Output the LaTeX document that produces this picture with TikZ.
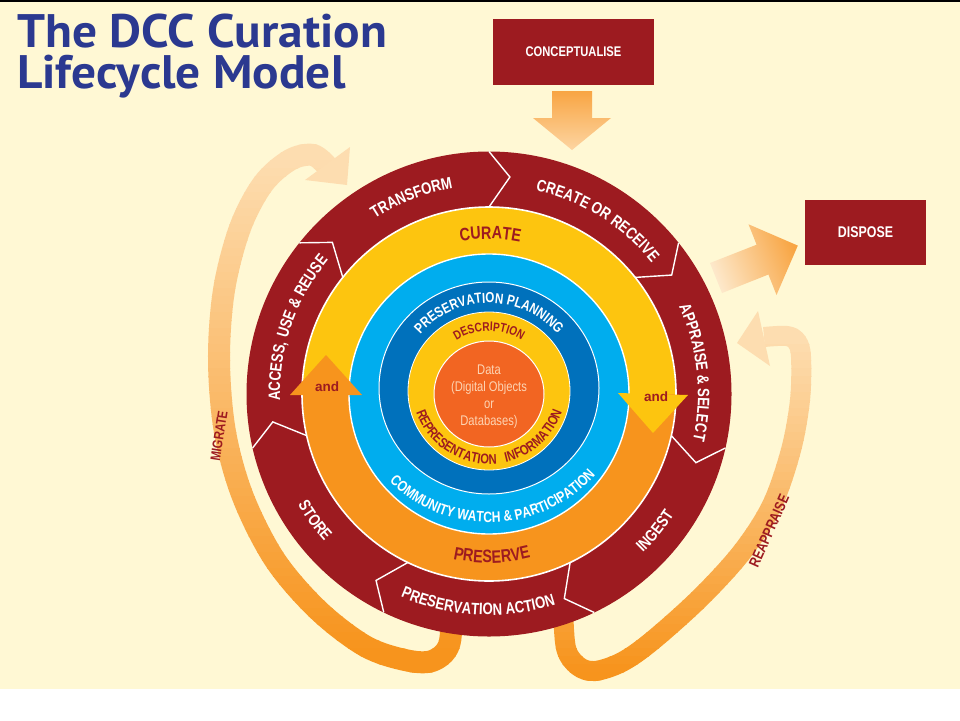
\documentclass[tikz,border=0pt]{standalone}
\usepackage{fontspec}
\setmainfont{Liberation Sans}
\newfontfamily\condfam[FakeStretch=0.8]{Liberation Sans}
\newfontfamily\ttlfam[FakeStretch=1.05]{PT Sans}
\usetikzlibrary{decorations.text}
\definecolor{bgcream}{HTML}{FFF8D4}
\definecolor{dred}{HTML}{9D1B20}
\definecolor{cyel}{HTML}{FDC50F}
\definecolor{pora}{HTML}{F7941D}
\definecolor{lblue}{HTML}{00ADEE}
\definecolor{dblue}{HTML}{0071BC}
\definecolor{dora}{HTML}{F26522}
\definecolor{datatxt}{HTML}{FDD4B3}
\definecolor{tblue}{HTML}{2B3990}
\definecolor{pale}{HTML}{FDDDB0}
\definecolor{paleB}{HTML}{FDE8CA}
\definecolor{arrora}{HTML}{F7941D}
\definecolor{arrtop}{HTML}{F8A543}
\definecolor{arrbot}{HTML}{FDD5A2}
\newcommand\lblfont{\condfam\bfseries\fontsize{16.5}{16.5}\selectfont}
\newcommand\drawmig[1]{\draw[line width=22, draw=#1] plot[smooth, tension=0.55] coordinates {(452,-606) (449,-645) (432,-661) (405,-660) (365,-646) (318,-610) (275,-560) (243,-497) (225,-432) (219,-360) (224,-290) (240,-228) (263,-184) (290,-160) (313,-155) (328,-167)};}
\newcommand\drawreap[1]{\draw[line width=20, draw=#1] plot[smooth, tension=0.55] coordinates {(563,-606) (566,-648) (578,-666) (595,-671) (622,-662) (652,-641) (700,-598) (742,-552) (772,-505) (791,-450) (800,-400) (801,-357) (797,-342) (787,-336) (764,-337)};}
\begin{document}
\begin{tikzpicture}[x=1pt,y=1pt,
  boxnode/.style={fill=dred, text=white, inner sep=0pt, font=\condfam\bfseries\fontsize{14}{14}\selectfont},
  cwtext/.style={decorate, decoration={text along path, text align=center, text color=white, text={|\lblfont|#1}}},
  dtext/.style 2 args={decorate, decoration={text along path, text align=center, text color=#1, text={#2}}},
  andlbl/.style={text=dred, inner sep=0pt, font=\bfseries\fontsize{13.5}{13.5}\selectfont},
  titlelbl/.style={anchor=base west, inner sep=0pt, text=tblue, font=\ttlfam\bfseries\fontsize{47}{47}\selectfont},
]
\useasboundingbox (0,0) rectangle (960,-720);
\fill[white] (0,0) rectangle (960,-720);
\fill[bgcream] (0,-2) rectangle (960,-689);
\fill[black] (0,0) rectangle (960,-1.6);

% title
\node[titlelbl] (title1) at (17,-47) {The DCC Curation};
\node[titlelbl] (title2) at (17,-88) {Lifecycle Model};

% migrate and reappraise bands (vertical gradient by strips)
\foreach \i in {0,...,71} {
  \pgfmathsetmacro\ytop{-128-8*\i}
  \pgfmathsetmacro\ybot{\ytop-8.8}
  \pgfmathsetmacro\ymid{132+8*\i}
  \pgfmathsetmacro\pcm{max(0,min(100,(\ymid-160)/4.9))}
  \pgfmathsetmacro\pcr{max(0,min(100,(\ymid-340)/3.3))}
  \begin{scope}
    \clip (150,\ytop) rectangle (850,\ybot);
    \drawmig{arrora!\pcm!pale}
    \drawreap{arrora!\pcr!pale}
  \end{scope}
}
\fill[pale] (350,-147) -- (347,-185) -- (305,-180) -- cycle;
\fill[pale] (758,-311) -- (737,-343) -- (770,-366) -- cycle;

% ring
\begin{scope}[shift={(489,-394)}]
  \fill[dred] (0,0) circle[radius=242.5];
  \fill[pora] (0,0) circle[radius=187];
  \fill[cyel] (187,0) arc[start angle=0, end angle=180, radius=187] -- cycle;
  \draw[white, line width=1.6] (0,0) circle[radius=187];
  \foreach \t in {90,38.571,-12.857,-64.286,-115.714,-167.143,141.429}
    \draw[white, line width=1.4] (\t:242.5) -- ({\t-5.5}:218) -- (\t:187);
  % outer labels
  \path[cwtext={TRANSFORM}] (141.5:209) arc[start angle=141.5, end angle=81.5, radius=209];
  \path[cwtext={CREATE OR RECEIVE}] (88:209) arc[start angle=88, end angle=28, radius=209];
  \path[cwtext={APPRAISE {\&} SELECT}] (41:209) arc[start angle=41, end angle=-29, radius=209];
  \path[cwtext={ACCESS, USE {\&} REUSE}] (196:209) arc[start angle=196, end angle=126, radius=209];
  \path[cwtext={INGEST}] (-69.5:221) arc[start angle=-69.5, end angle=-9.5, radius=221];
  \path[cwtext={PRESERVATION ACTION}] (-123:221) arc[start angle=-123, end angle=-63, radius=221];
  \path[cwtext={STORE}] (-174:221) arc[start angle=-174, end angle=-114, radius=221];
  % curate / preserve
  \path[dtext={dred}{|\condfam\bfseries\fontsize{18}{18}\selectfont|CURATE}] (129.5:155) arc[start angle=129.5, end angle=49.5, radius=155];
  \path[dtext={dred}{|\condfam\bfseries\fontsize{18}{18}\selectfont|PRESERVE}] (-129:169) arc[start angle=-129, end angle=-49, radius=169];
  % light blue
  \fill[lblue] (0,0) circle[radius=140];
  \draw[white, line width=1.4] (0,0) circle[radius=140];
  % and arrowheads
  \fill[cyel] (129,1) -- (199,-1) -- (164,-39) -- cycle;
  \fill[pora] (-199,-1) -- (-127,-1) -- (-163,39) -- cycle;
  \node[andlbl] (andR) at (167,-3) {and};
  \node[andlbl] (andL) at (-162,7) {and};
  % dark blue
  \fill[dblue] (0,6) ellipse[x radius=110, y radius=106];
  \draw[white, line width=1] (0,6) ellipse[x radius=110, y radius=106];
  % description ring
  \fill[cyel] (0,3) ellipse[x radius=81, y radius=79];
  \draw[white, line width=0.8] (0,3) ellipse[x radius=81, y radius=79];
  % data
  \fill[dora] (0,0) ellipse[x radius=55, y radius=53];
  \draw[white, line width=1] (0,0) ellipse[x radius=55, y radius=53];
  % inner texts
  \path[dtext={white}{|\condfam\bfseries\fontsize{14.5}{14.5}\selectfont|PRESERVATION PLANNING}] (155:91) arc[start angle=155, end angle=25, radius=91];
  \begin{scope}[shift={(0,14)}]
    \path[dtext={white}{|\condfam\bfseries\fontsize{15}{15}\selectfont|COMMUNITY WATCH {\&} PARTICIPATION}] (-148:142.5) arc[start angle=-148, end angle=-28, radius=142.5];
  \end{scope}
  \begin{scope}[shift={(0,3)}]
    \path[dtext={dred}{|\condfam\bfseries\fontsize{12.6}{12.6}\selectfont|DESCRIPTION}] (140:60) arc[start angle=140, end angle=40, radius=60];
  \end{scope}
  \begin{scope}[shift={(0,7)}]
    \path[dtext={dred}{|\condfam\bfseries\fontsize{14}{14}\selectfont|REPRESENTATION}] (-172.6:77) arc[start angle=-172.6, end angle=-72.6, radius=77];
    \path[dtext={dred}{|\condfam\bfseries\fontsize{14}{14}\selectfont|INFORMATION}] (-98:77) arc[start angle=-98, end angle=2, radius=77];
  \end{scope}
  \node[align=center, text=datatxt, font=\condfam\fontsize{14}{17}\selectfont, inner sep=0pt] (data) at (0,-3) {Data\\(Digital Objects\\or\\Databases)};
\end{scope}

% boxes and arrows
\node[boxnode, minimum width=161pt, minimum height=66pt] (concept) at (573.5,-52) {CONCEPTUALISE};
\node[boxnode, minimum width=121pt, minimum height=65pt, font=\condfam\bfseries\fontsize{15.5}{15.5}\selectfont] (dispose) at (865.5,-232.5) {DISPOSE};
\shade[top color=arrtop, bottom color=arrbot] (552,-91) -- (592,-91) -- (592,-118) -- (611,-118) -- (572,-150) -- (533,-118) -- (552,-118) -- cycle;
\shade[top color=arrtop, bottom color=paleB, shading angle=-68.4] (710,-263) -- (756.6,-244.7) -- (748.5,-224.3) -- (797.8,-245.6) -- (776.5,-295) -- (768.4,-274.5) -- (722,-293) -- cycle;

\node[rotate=81, text=dred, font=\condfam\bfseries\fontsize{14}{14}\selectfont, inner sep=0pt] (migtxt) at (219,-436) {MIGRATE};
\node[rotate=66, text=dred, font=\condfam\bfseries\fontsize{15}{15}\selectfont, inner sep=0pt] (reaptxt) at (769,-531) {REAPPRAISE};
\end{tikzpicture}
\end{document}
